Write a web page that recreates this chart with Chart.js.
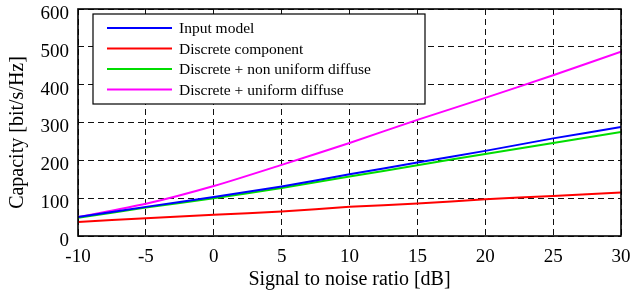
<!DOCTYPE html>
<html><head><meta charset="utf-8">
<script src="https://cdn.jsdelivr.net/npm/chart.js@4/dist/chart.umd.min.js"></script>
<style>html,body{margin:0;padding:0;background:#fff}#wrap{width:634px;height:293px}</style>
</head><body><div id="wrap"><canvas id="c" width="634" height="293"></canvas></div>
<script>
const snr = [-10, -5, 0, 5, 10, 15, 20, 25, 30];
const inputModel = [50, 77, 103, 131, 163, 194, 225, 258, 288];
const discrete = [37, 47, 56, 65, 77, 86, 97, 106, 115];
const nonUniform = [48, 75, 100, 127, 157, 187, 217, 246, 275];
const uniform = [50, 85, 132, 188, 246, 307, 365, 425, 487];
const xTicks = [-10, -5, 0, 5, 10, 15, 20, 25, 30];
const yTicks = [0, 100, 200, 300, 400, 500, 600];
const seriesNames = ['Input model', 'Discrete component', 'Discrete + non uniform diffuse', 'Discrete + uniform diffuse'];
const seriesColors = ['#0000ff', '#ff0000', '#00dd00', '#ff00ff'];
const seriesData = [inputModel, discrete, nonUniform, uniform];
const yTitle = 'Capacity [bit/s/Hz]';

const FONT = '"Liberation Serif", "Times New Roman", serif';

const frameLegend = {
  id: 'frameLegend',
  afterDraw(chart) {
    const {ctx, chartArea: a} = chart;
    const ys = chart.scales.y;
    ctx.save();
    // y tick labels (via the y scale)
    ctx.fillStyle = '#000';
    ctx.font = '19px ' + FONT;
    ctx.textAlign = 'right';
    ctx.textBaseline = 'middle';
    yTicks.forEach(v => {
      ctx.fillText(String(v), a.left - 9, ys.getPixelForValue(v) + 5);
    });
    // y title
    ctx.save();
    ctx.translate(18, (a.top + a.bottom) / 2 + 10);
    ctx.rotate(-Math.PI / 2);
    ctx.textAlign = 'center';
    ctx.font = '20px ' + FONT;
    ctx.fillText(yTitle, 0, 0);
    ctx.restore();
    // frame
    ctx.strokeStyle = '#000';
    ctx.lineWidth = 1.6;
    ctx.setLineDash([]);
    ctx.strokeRect(a.left, a.top, a.right - a.left, a.bottom - a.top);
    // legend
    const lx = a.left + 15, ly = a.top + 5, lw = 332, lh = 90;
    ctx.fillStyle = '#fff';
    ctx.fillRect(lx, ly, lw, lh);
    ctx.lineWidth = 1.2;
    ctx.strokeRect(lx, ly, lw, lh);
    ctx.font = '15.5px ' + FONT;
    ctx.textAlign = 'left';
    ctx.textBaseline = 'middle';
    chart.data.datasets.forEach((ds, i) => {
      const y = ly + 14 + i * 20.5;
      ctx.strokeStyle = ds.borderColor;
      ctx.lineWidth = 2;
      ctx.beginPath();
      ctx.moveTo(lx + 14, y);
      ctx.lineTo(lx + 79, y);
      ctx.stroke();
      ctx.fillStyle = '#000';
      ctx.fillText(ds.label, lx + 86, y + 1);
    });
    ctx.restore();
  }
};

new Chart(document.getElementById('c'), {
  type: 'line',
  data: {
    datasets: seriesNames.map((n, i) => ({
      label: n,
      data: snr.map((x, j) => ({x: x, y: seriesData[i][j]})),
      borderColor: seriesColors[i],
      backgroundColor: seriesColors[i],
      borderWidth: 2,
      pointRadius: 0,
      tension: 0.25,
      fill: false
    }))
  },
  options: {
    responsive: false,
    animation: false,
    events: [],
    layout: {padding: {top: 9, right: 13, left: 0, bottom: 0}},
    plugins: {legend: {display: false}, tooltip: {enabled: false}},
    scales: {
      x: {
        type: 'linear', min: -10, max: 30,
        afterBuildTicks: s => { s.ticks = xTicks.map(v => ({value: v})); },
        afterFit: s => { s.height = 57; s.paddingLeft = 0; s.paddingRight = 0; },
        grid: {color: '#111', lineWidth: 1, drawTicks: false},
        border: {display: false, dash: [6, 4]},
        ticks: {color: '#000', font: {family: FONT, size: 19}, padding: 10, maxRotation: 0},
        title: {display: true, text: 'Signal to noise ratio [dB]', color: '#000', font: {family: FONT, size: 20}, padding: {top: 0, bottom: 1}}
      },
      y: {
        min: 0, max: 600,
        afterBuildTicks: s => { s.ticks = yTicks.map(v => ({value: v})); },
        afterFit: s => { s.width = 78; s.paddingTop = 0; s.paddingBottom = 0; },
        grid: {color: '#111', lineWidth: 1, drawTicks: false},
        border: {display: false, dash: [6, 4]},
        ticks: {display: false},
        title: {display: false}
      }
    }
  },
  plugins: [frameLegend]
});
</script></body></html>
